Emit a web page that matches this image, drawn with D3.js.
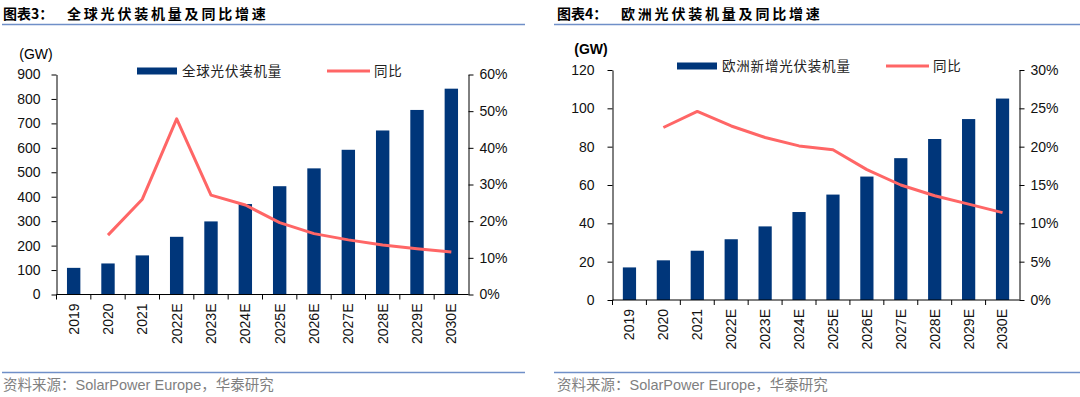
<!DOCTYPE html>
<html>
<head>
<meta charset="utf-8">
<script src="https://cdn.jsdelivr.net/npm/d3@7"></script>
<style>
  body { margin: 0; background: #fff; }
  text { font-family: "Liberation Sans", Arial, sans-serif; }
  .cjk { font-family: "Noto Sans CJK SC", sans-serif; }
</style>
</head>
<body>
<div id="chart"></div>
<script>
// categories
const years = ['2019', '2020', '2021', '2022E', '2023E', '2024E', '2025E', '2026E', '2027E', '2028E', '2029E', '2030E'];

// global installs (GW) and yoy (%)
const globalInstall = [109, 127, 160, 236, 299, 370, 443, 516, 592, 671, 755, 842];
const globalYoy = [null, 16.2, 26.0, 47.9, 27.1, 24.4, 19.6, 16.6, 14.9, 13.5, 12.5, 11.6];

// europe new installs (GW) and yoy (%)
const euroInstall = [17.0, 20.7, 25.7, 31.7, 38.4, 45.9, 55.0, 64.4, 74.0, 84.0, 94.4, 105.1];
const euroYoy = [null, 22.5, 24.6, 22.7, 21.2, 20.1, 19.6, 17.0, 15.0, 13.6, 12.5, 11.4];

// tick labels
const globalLeftTicks = [0, 100, 200, 300, 400, 500, 600, 700, 800, 900];
const globalRightTicks = [0, 10, 20, 30, 40, 50, 60];
const euroLeftTicks = [0, 20, 40, 60, 80, 100, 120];
const euroRightTicks = [0, 5, 10, 15, 20, 25, 30];

const barColor = '#00367A';
const lineColor = '#FF6666';
const ruleColor = '#6F8FC8';

const svg = d3.select('#chart')
  .append('svg')
  .attr('width', 1080)
  .attr('height', 397);

svg.append('rect').attr('width', 1080).attr('height', 397).attr('fill', '#fff');

function drawPanel(p) {
  const g = svg.append('g');

  // title
  g.append('text')
    .attr('class', 'cjk')
    .attr('x', p.titleX).attr('y', 19)
    .attr('font-size', 14).attr('font-weight', 'bold')
    .text(p.titleNo);
  g.append('text')
    .attr('class', 'cjk')
    .attr('x', p.titleX + 64).attr('y', 19)
    .attr('font-size', 14).attr('font-weight', 'bold')
    .attr('letter-spacing', 2.8)
    .text(p.title);
  g.append('line')
    .attr('x1', p.ruleX1).attr('x2', p.ruleX2)
    .attr('y1', 24.5).attr('y2', 24.5)
    .attr('stroke', ruleColor).attr('stroke-width', 1.3);

  // footer
  g.append('line')
    .attr('x1', p.ruleX1).attr('x2', p.ruleX2)
    .attr('y1', 372.5).attr('y2', 372.5)
    .attr('stroke', ruleColor).attr('stroke-width', 1.3);
  const foot = g.append('text')
    .attr('x', p.titleX).attr('y', 390)
    .attr('font-size', 14.5).attr('fill', '#7f7f7f');
  foot.append('tspan').attr('class', 'cjk').text('资料来源：');
  foot.append('tspan').text('SolarPower Europe');
  foot.append('tspan').attr('class', 'cjk').text('，华泰研究');

  const x = d3.scaleBand()
    .domain(years)
    .range([p.left, p.right])
    .paddingInner(0.61)
    .paddingOuter(0.305);

  const y = d3.scaleLinear().domain([0, p.leftMax]).range([p.bottom, p.top]);
  const y2 = d3.scaleLinear().domain([0, p.rightMax]).range([p.bottom, p.top]);

  // bars
  g.selectAll('rect.bar')
    .data(p.bars)
    .join('rect')
    .attr('class', 'bar')
    .attr('x', (d, i) => x(years[i]))
    .attr('width', x.bandwidth())
    .attr('y', d => y(d))
    .attr('height', d => y(0) - y(d))
    .attr('fill', barColor);

  // left axis
  const ya = g.append('g')
    .attr('transform', `translate(${p.left},0)`)
    .call(d3.axisLeft(y).tickValues(p.leftTicks).tickSize(5).tickPadding(p.leftPad).tickSizeOuter(0));
  // right axis
  const yb = g.append('g')
    .attr('transform', `translate(${p.right},0)`)
    .call(d3.axisRight(y2).tickValues(p.rightTicks).tickFormat(d => d + '%').tickSize(5).tickPadding(6).tickSizeOuter(0));

  // x axis with ticks between categories
  const xa = g.append('g')
    .attr('transform', `translate(0,${p.bottom})`);
  xa.append('line')
    .attr('x1', p.left).attr('x2', p.right)
    .attr('stroke', '#000');
  xa.selectAll('line.tk')
    .data(years)
    .join('line')
    .attr('class', 'tk')
    .attr('x1', d => x(d) - x.step() * 0.305)
    .attr('x2', d => x(d) - x.step() * 0.305)
    .attr('y1', 0).attr('y2', 5)
    .attr('stroke', '#000');
  xa.selectAll('text')
    .data(years)
    .join('text')
    .attr('transform', d => `translate(${x(d) + x.bandwidth() / 2},9) rotate(-90)`)
    .attr('text-anchor', 'end')
    .attr('dy', '0.35em')
    .attr('font-size', 14)
    .attr('fill', '#111')
    .text(d => d);

  [ya, yb].forEach(a => {
    a.selectAll('path').attr('stroke', '#000');
    a.selectAll('line').attr('stroke', '#000');
    a.selectAll('text').attr('font-size', 14).attr('fill', '#111')
      .style('font-family', '"Liberation Sans", Arial, sans-serif');
  });

  // yoy line
  const line = d3.line()
    .defined(d => d != null)
    .x((d, i) => x(years[i]) + x.bandwidth() / 2)
    .y(d => y2(d));
  g.append('path')
    .datum(p.yoy)
    .attr('d', line)
    .attr('fill', 'none')
    .attr('stroke', lineColor)
    .attr('stroke-width', 3)
    .attr('stroke-linejoin', 'round');

  // unit label
  g.append('text')
    .attr('x', p.unitX).attr('y', p.unitY)
    .attr('text-anchor', 'middle')
    .attr('dy', '0.35em')
    .attr('font-size', 14)
    .attr('font-weight', p.unitBold ? 'bold' : 'normal')
    .text('(GW)');

  // legend
  g.append('rect')
    .attr('x', p.legX).attr('y', p.legY - 3.5)
    .attr('width', 40).attr('height', 7)
    .attr('fill', barColor);
  g.append('text')
    .attr('class', 'cjk')
    .attr('x', p.legX + 45).attr('y', p.legY)
    .attr('dy', '0.35em')
    .attr('font-size', 13.5)
    .attr('letter-spacing', 0.8)
    .attr('fill', '#222')
    .text(p.legendName);
  g.append('line')
    .attr('x1', p.legLineX).attr('x2', p.legLineX + 43)
    .attr('y1', p.legY).attr('y2', p.legY)
    .attr('stroke', lineColor).attr('stroke-width', 3);
  g.append('text')
    .attr('class', 'cjk')
    .attr('x', p.legLineX + 47).attr('y', p.legY)
    .attr('dy', '0.35em')
    .attr('font-size', 13.5)
    .attr('letter-spacing', 0.8)
    .attr('fill', '#222')
    .text('同比');
}

drawPanel({
  titleNo: '图表3：', title: '全球光伏装机量及同比增速', titleX: 3,
  ruleX1: 2, ruleX2: 525,
  left: 56.5, right: 468.5, top: 74.5, bottom: 294.5,
  leftMax: 900, rightMax: 60, leftPad: 11,
  leftTicks: globalLeftTicks, rightTicks: globalRightTicks,
  bars: globalInstall, yoy: globalYoy,
  unitX: 36, unitY: 54, unitBold: false,
  legX: 137, legY: 71, legLineX: 327, legendName: '全球光伏装机量'
});

drawPanel({
  titleNo: '图表4：', title: '欧洲光伏装机量及同比增速', titleX: 557,
  ruleX1: 554, ruleX2: 1080,
  left: 612.5, right: 1019.5, top: 70, bottom: 300,
  leftMax: 120, rightMax: 30, leftPad: 13,
  leftTicks: euroLeftTicks, rightTicks: euroRightTicks,
  bars: euroInstall, yoy: euroYoy,
  unitX: 591, unitY: 49.5, unitBold: true,
  legX: 677, legY: 66, legLineX: 886, legendName: '欧洲新增光伏装机量'
});
</script>
</body>
</html>
